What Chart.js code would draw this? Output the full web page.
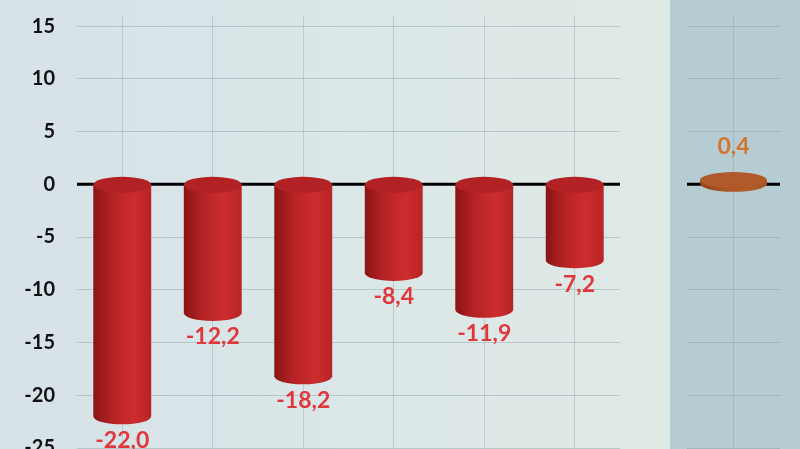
<!DOCTYPE html>
<html>
<head>
<meta charset="utf-8">
<script src="https://cdn.jsdelivr.net/npm/chart.js@4/dist/chart.umd.min.js"></script>
<style>
  html, body { margin:0; padding:0; width:800px; height:449px; overflow:hidden; position:relative; }
  #bgLeft { position:absolute; left:0; top:0; width:670px; height:449px;
          background:linear-gradient(to right, #d7e2e9, #dfeae6); }
  #left { position:absolute; left:0; top:-25px; width:670px; height:513px; }
  #right { position:absolute; left:670px; top:0; width:130px; height:470px; background:#b5cdd2; }
</style>
</head>
<body>
<div id="bgLeft"></div>
<div id="left"><canvas id="chartLeft"></canvas></div>
<div id="right"><canvas id="chartRight"></canvas></div>
<script>
// Données
const categories = ["1", "2", "3", "4", "5", "6"];
const values = [-22.0, -12.2, -18.2, -8.4, -11.9, -7.2];
const totalCategory = ["Total"];
const totalValues = [0.4];
const yTicks = [-25, -20, -15, -10, -5, 0, 5, 10, 15];
const yMin = -25, yMax = 16;

const FONT = "Lato, 'Open Sans', sans-serif";

// dégradé horizontal pour imiter un cylindre
function cylGradient(ctx, x0, x1, dark, mid, light){
  const g = ctx.createLinearGradient(x0, 0, x1, 0);
  g.addColorStop(0, dark);
  g.addColorStop(0.35, mid);
  g.addColorStop(0.7, light);
  g.addColorStop(1, mid);
  return g;
}

// plugin : dessine les cylindres + étiquettes à partir des éléments de barre
const cylinders = {
  id: "cylinders",
  afterDatasetsDraw(chart, args, opts){
    const ctx = chart.ctx;
    const meta = chart.getDatasetMeta(0);
    const data = chart.data.datasets[0].data;
    meta.data.forEach((bar, i)=>{
      const w = bar.width, x0 = bar.x - w/2, x1 = bar.x + w/2;
      const rx = w/2, ry = opts.ry;
      const top = Math.min(bar.y, bar.base), bot = Math.max(bar.y, bar.base);
      ctx.save();
      // corps
      ctx.fillStyle = cylGradient(ctx, x0, x1, opts.dark, opts.mid, opts.light);
      ctx.beginPath();
      ctx.moveTo(x0, top);
      ctx.lineTo(x0, bot);
      ctx.ellipse(bar.x, bot, rx, ry, 0, Math.PI, 0, true);
      ctx.lineTo(x1, top);
      ctx.closePath();
      ctx.fill();
      // dessus
      ctx.fillStyle = opts.cap;
      ctx.beginPath();
      ctx.ellipse(bar.x, top, rx, ry, 0, 0, Math.PI*2);
      ctx.fill();
      // étiquette
      const v = data[i];
      ctx.fillStyle = opts.labelColor;
      ctx.font = "bold 23px " + FONT;
      ctx.textAlign = "center";
      ctx.textBaseline = "middle";
      const txt = v.toFixed(1).replace(".", ",");
      const ly = v < 0 ? bar.y + 24 : bar.y - 33;
      ctx.fillText(txt, bar.x, ly);
      ctx.restore();
    });
  }
};

// ligne du zéro
const zeroLine = {
  id: "zeroLine",
  beforeDatasetsDraw(chart){
    const ctx = chart.ctx, a = chart.chartArea;
    const y = chart.scales.y.getPixelForValue(0);
    ctx.save();
    ctx.strokeStyle = "#000";
    ctx.lineWidth = 3;
    ctx.beginPath();
    ctx.moveTo(a.left, y);
    ctx.lineTo(a.right, y);
    ctx.stroke();
    ctx.restore();
  }
};

function yScale(show){
  return {
    min: yMin, max: yMax,
    display: true,
    afterBuildTicks: (s)=>{ s.ticks = yTicks.map(v => ({ value: v })); },
    afterFit: (s)=>{ s.width = show ? 77 : 0; },
    ticks: {
      display: show, padding: 22,
      color: "#111", font: { family: FONT, size: 20, weight: "bold" }
    },
    grid: { color: "rgba(120,140,150,0.35)", drawTicks: false, lineWidth: 1 },
    border: { display: false }
  };
}

function xScale(){
  return {
    ticks: { display: false },
    grid: { offset: false, color: "rgba(120,140,150,0.3)", drawTicks: false },
    border: { display: false }
  };
}

function makeChart(id, labels, vals, pad, barPct, style){
  return new Chart(document.getElementById(id).getContext("2d"), {
    type: "bar",
    data: { labels, datasets: [{ data: vals, backgroundColor: "rgba(0,0,0,0)",
            barPercentage: barPct, categoryPercentage: 1 }] },
    options: {
      responsive: true, maintainAspectRatio: false, animation: false,
      layout: { padding: pad },
      plugins: { legend: { display: false }, tooltip: { enabled: false }, cylinders: style },
      scales: { x: xScale(), y: yScale(id === "chartLeft") }
    },
    plugins: [zeroLine, cylinders]
  });
}

makeChart("chartLeft", categories, values,
  { left: 0, right: 50, top: 40.5, bottom: 40 }, 0.64,
  { ry: 8, dark: "#8a1414", mid: "#b82426", light: "#cc2d2e", cap: "#b22224", labelColor: "#e0383a" });

makeChart("chartRight", totalCategory, totalValues,
  { left: 17, right: 20, top: 15.5, bottom: 22 }, 0.72,
  { ry: 8, dark: "#8f4618", mid: "#a85424", light: "#b45d2a", cap: "#b0592a", labelColor: "#d4742f" });
</script>
</body>
</html>
